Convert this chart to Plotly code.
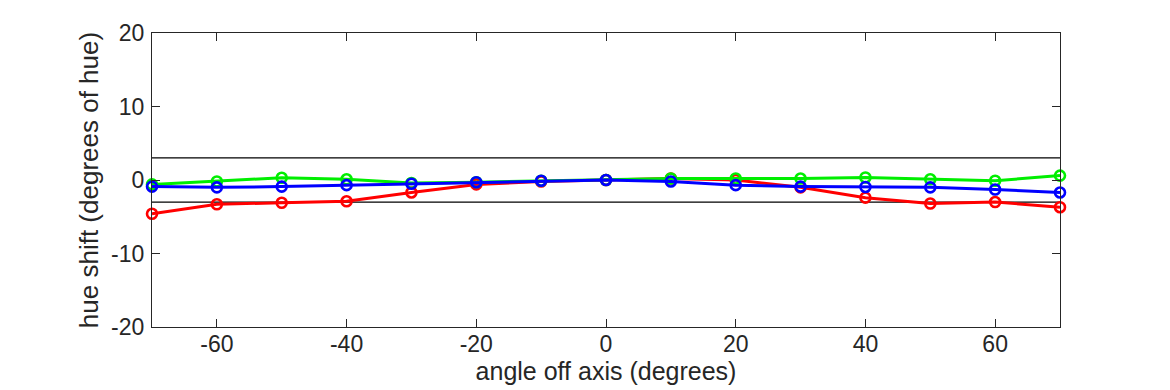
import plotly.graph_objects as go

angles = [-70, -60, -50, -40, -30, -20, -10, 0, 10, 20, 30, 40, 50, 60, 70]
red = [-4.6, -3.3, -3.1, -2.9, -1.7, -0.6, -0.2, 0.0, 0.2, 0.0, -1.0, -2.4, -3.2, -3.0, -3.7]
green = [-0.6, -0.2, 0.3, 0.1, -0.4, -0.3, -0.1, 0.0, 0.2, 0.2, 0.2, 0.35, 0.1, -0.1, 0.6]
blue = [-0.9, -1.0, -0.9, -0.7, -0.5, -0.3, -0.1, 0.0, -0.2, -0.7, -0.9, -0.95, -1.0, -1.3, -1.7]
limits = [3, -3]
x_ticks = [-60, -40, -20, 0, 20, 40, 60]
x_labels = ["-60", "-40", "-20", "0", "20", "40", "60"]
y_ticks = [-20, -10, 0, 10, 20]
y_labels = ["-20", "-10", "0", "10", "20"]

FONT = "Liberation Sans, Arial, Helvetica"

fig = go.Figure()
for lim in limits:
    fig.add_trace(go.Scatter(x=[-70, 70], y=[lim, lim], mode="lines",
                             line=dict(color="black", width=1.2),
                             hoverinfo="skip", showlegend=False))
for vals, col in [(red, "#ff0000"), (green, "#00ee00"), (blue, "#0000ff")]:
    fig.add_trace(go.Scatter(x=angles, y=vals, mode="lines+markers",
                             line=dict(color=col, width=3),
                             marker=dict(symbol="circle-open", size=10,
                                         line=dict(color=col, width=2.6)),
                             showlegend=False, cliponaxis=False))

axis_common = dict(showgrid=False, zeroline=False, showline=True, mirror="ticks",
                   linecolor="#262626", linewidth=1.2, ticks="inside", ticklen=8,
                   tickcolor="#262626", tickwidth=1,
                   tickfont=dict(family=FONT, size=23, color="#262626"))

fig.update_layout(
    width=1162, height=382,
    margin=dict(l=144, r=110, t=21, b=63),
    paper_bgcolor="white", plot_bgcolor="white",
    xaxis=dict(range=[-70, 70], tickvals=x_ticks, ticktext=x_labels, ticklabelstandoff=-4,
               **axis_common,
               title=dict(text="angle off axis (degrees)", standoff=0,
                          font=dict(family=FONT, size=25, color="#262626"))),
    yaxis=dict(range=[-20, 20], tickvals=y_ticks, ticktext=y_labels, ticklabelstandoff=2,
               **axis_common,
               title=dict(text="hue shift (degrees of hue)", standoff=4,
                          font=dict(family=FONT, size=26, color="#262626"))),
)

fig.write_html("out.html")
